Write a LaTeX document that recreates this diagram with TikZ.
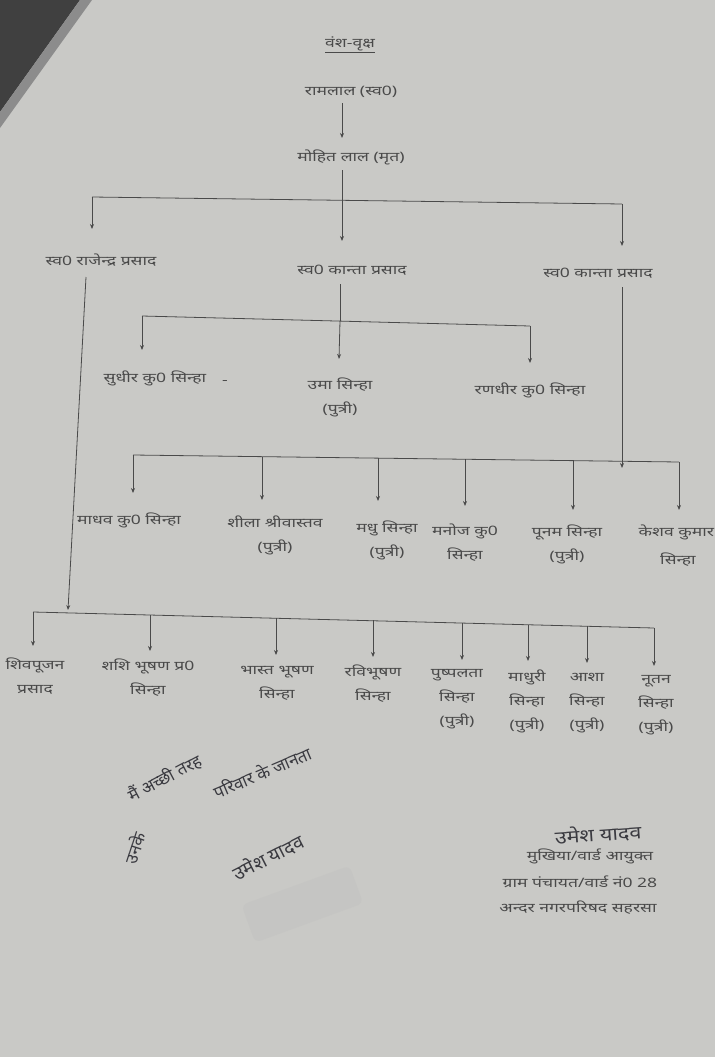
\documentclass[tikz,border=0pt]{standalone}
\usepackage{fontspec}
\newfontfamily\hindi[Script=Devanagari]{Noto Sans}
\usetikzlibrary{arrows.meta}
\definecolor{paper}{HTML}{C9C9C6}
\definecolor{ink}{HTML}{4A4A4A}
\definecolor{pen}{HTML}{3A3A40}
\tikzset{
  lbl/.style={font=\hindi\fontsize{13}{24}\selectfont, text=ink, align=center, inner sep=1pt, xscale=1.35},
  hand/.style={font=\hindi\fontsize{17}{19}\selectfont, text=pen, inner sep=0pt},
  ln/.style={draw=ink, line width=0.8pt},
  arr/.style={ln, -{Stealth[length=5pt,width=4pt]}},
}
\begin{document}
\begin{tikzpicture}[x=1pt,y=-1pt]
\useasboundingbox (0,0) rectangle (715,1057);
\fill[paper] (0,0) rectangle (715,1057);
% dark corner
\fill[black!75] (0,0) -- (80,0) -- (0,112) -- cycle;
\fill[black!45] (80,0) -- (92,0) -- (0,128) -- (0,112) -- cycle;

% title
\node[lbl] (title) at (350,45) {\underline{वंश-वृक्ष}};
\node[lbl] (ram) at (351,92) {रामलाल (स्व0)};
\node[lbl] (mohit) at (351,157) {मोहित लाल (मृत)};

% generation 1
\node[lbl] (rajendra) at (101,260) {स्व0 राजेन्द्र प्रसाद};
\node[lbl] (kantaA) at (352,270) {स्व0 कान्ता प्रसाद};
\node[lbl] (kantaB) at (598,273) {स्व0 कान्ता प्रसाद};

% generation 2 (kantaA)
\node[lbl] (sudhir) at (155,378) {सुधीर कु0 सिन्हा};
\node[lbl] (dash) at (225,382) {-};
\node[lbl] (uma) at (340,397) {उमा सिन्हा\\(पुत्री)};
\node[lbl] (randhir) at (530,390) {रणधीर कु0 सिन्हा};

% generation 3 (kantaB)
\node[lbl] (madhav) at (129,520) {माधव कु0 सिन्हा};
\node[lbl] (shila) at (275,535) {शीला श्रीवास्तव\\(पुत्री)};
\node[lbl] (madhu) at (387,540) {मधु सिन्हा\\(पुत्री)};
\node[lbl] (manoj) at (465,543) {मनोज कु0\\सिन्हा};
\node[lbl] (poonam) at (567,544) {पूनम सिन्हा\\(पुत्री)};
\node[lbl, anchor=north west] (keshav) at (637,524) {केशव कुमार};
\node[lbl] (keshavb) at (678,560) {सिन्हा};

% generation 4 (rajendra)
\node[lbl] (shiv) at (35,676) {शिवपूजन\\प्रसाद};
\node[lbl] (shashi) at (148,678) {शशि भूषण प्र0\\सिन्हा};
\node[lbl] (bharat) at (277,683) {भास्त भूषण\\सिन्हा};
\node[lbl] (ravi) at (373,684) {रविभूषण\\सिन्हा};
\node[lbl] (pushpa) at (457,699) {पुष्पलता\\सिन्हा\\(पुत्री)};
\node[lbl] (madhuri) at (527,701) {माधुरी\\सिन्हा\\(पुत्री)};
\node[lbl] (asha) at (587,703) {आशा\\सिन्हा\\(पुत्री)};
\node[lbl] (nutan) at (656,705) {नूतन\\सिन्हा\\(पुत्री)};

% connectors
\coordinate (s0a) at (342,103);
\coordinate (s0b) at (342,138);
\draw[arr] (s0a) -- (s0b);

\coordinate (s1) at (342,170);
\coordinate (b1L) at (92,197);
\coordinate (b1M) at (342,200);
\coordinate (b1R) at (622,204);
\draw[ln] (s1) -- (b1M);
\draw[ln] (b1L) -- (b1R);
\coordinate (t1L) at (92,229);
\coordinate (t1M) at (342,241);
\coordinate (t1R) at (622,246);
\draw[arr] (b1L) -- (t1L);
\draw[arr] (b1M) -- (t1M);
\draw[arr] (b1R) -- (t1R);

% kantaA children
\coordinate (s2) at (340,284);
\coordinate (b2L) at (142,316);
\coordinate (b2M) at (340,321);
\coordinate (b2R) at (530,326);
\draw[ln] (s2) -- (b2M);
\draw[ln] (b2L) -- (b2R);
\coordinate (t2L) at (142,350);
\coordinate (t2M) at (339,359);
\coordinate (t2R) at (530,363);
\draw[arr] (b2L) -- (t2L);
\draw[arr] (b2M) -- (t2M);
\draw[arr] (b2R) -- (t2R);

% kantaB children
\coordinate (s3) at (622,287);
\coordinate (t3s) at (622,468);
\draw[arr] (s3) -- (t3s);
\coordinate (b3a) at (133,455);
\coordinate (b3b) at (262,457);
\coordinate (b3c) at (378,458);
\coordinate (b3d) at (465,459);
\coordinate (b3e) at (573,460);
\coordinate (b3f) at (679,462);
\draw[ln] (b3a) -- (b3f);
\coordinate (t3a) at (133,493);
\coordinate (t3b) at (262,500);
\coordinate (t3c) at (378,501);
\coordinate (t3d) at (465,506);
\coordinate (t3e) at (573,510);
\coordinate (t3f) at (679,510);
\foreach \i in {a,b,c,d,e,f} {\draw[arr] (b3\i) -- (t3\i);}

% rajendra children
\coordinate (s4) at (86,277);
\coordinate (t4s) at (68,610);
\draw[arr] (s4) -- (t4s);
\coordinate (b4a) at (33,612);
\coordinate (b4b) at (150,615);
\coordinate (b4c) at (276,618);
\coordinate (b4d) at (373,620);
\coordinate (b4e) at (462,623);
\coordinate (b4f) at (528,625);
\coordinate (b4g) at (587,626);
\coordinate (b4h) at (654,628);
\draw[ln] (b4a) -- (b4h);
\coordinate (t4a) at (33,646);
\coordinate (t4b) at (150,651);
\coordinate (t4c) at (276,655);
\coordinate (t4d) at (373,657);
\coordinate (t4e) at (462,660);
\coordinate (t4f) at (528,661);
\coordinate (t4g) at (587,663);
\coordinate (t4h) at (654,666);
\foreach \i in {a,b,c,d,e,f,g,h} {\draw[arr] (b4\i) -- (t4\i);}

% handwriting left
\node[hand, rotate=28] (hw1) at (165,778) {मैं अच्छी तरह};
\node[hand, rotate=23] (hw2) at (262,772) {परिवार के जानता};
\node[hand, rotate=72] (hw3) at (134,848) {उनके};
\node[hand, rotate=27, font=\hindi\fontsize{19}{21}\selectfont] (hw4) at (268,857) {उमेश यादव};
% faded stamp
\fill[gray!55, opacity=0.22, rounded corners=6pt, rotate around={20:(300,905)}] (245,885) rectangle (360,925);

% bottom right block
\node[hand, rotate=4, font=\hindi\fontsize{18}{20}\selectfont, xscale=1.2] (sig) at (598,834) {उमेश यादव};
\node[lbl] (post) at (590,856) {मुखिया/वार्ड आयुक्त};
\node[lbl] (gram) at (580,882) {ग्राम पंचायत/वार्ड नं0 28};
\node[lbl] (nagar) at (578,908) {अन्दर नगरपरिषद सहरसा};
\end{tikzpicture}
\end{document}
